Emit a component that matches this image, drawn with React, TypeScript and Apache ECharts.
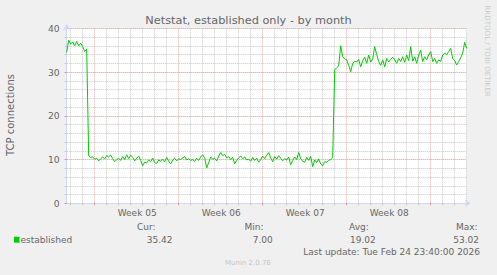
import React, { useEffect, useRef } from "react";
import * as echarts from "echarts";

// One sample every 4 hours, starting Fri Jan 23 2026 17:00 (800 hours shown)
const HOURS_PER_POINT = 4;
const TOTAL_HOURS = 800;
const established: number[] = [
  34.5, 37.3, 36.4, 36.9, 36.0, 37.0, 36.0, 36.6, 35.8, 34.7,
  35.2, 10.8, 10.5, 10.6, 10.1, 10.3, 9.7, 10.2, 10.6, 10.2,
  10.9, 10.6, 11.0, 10.2, 9.5, 10.0, 10.3, 9.8, 10.7, 10.0,
  11.1, 10.2, 11.0, 10.5, 9.7, 10.3, 10.8, 9.8, 8.6, 9.4,
  9.2, 9.9, 9.5, 10.3, 9.3, 9.1, 9.9, 9.6, 10.1, 9.5,
  10.5, 9.6, 9.0, 9.9, 10.3, 9.7, 10.2, 10.0, 10.4, 10.7,
  9.9, 10.2, 9.8, 10.0, 9.6, 10.3, 9.8, 10.6, 11.1, 10.3,
  8.1, 9.3, 10.6, 10.1, 10.3, 9.7, 10.8, 11.6, 10.9, 11.2,
  10.4, 10.7, 10.0, 10.5, 9.0, 9.8, 10.4, 10.8, 10.2, 10.6,
  9.9, 10.1, 9.6, 10.5, 9.8, 10.3, 9.4, 10.0, 10.8, 10.2,
  11.0, 11.6, 10.4, 9.5, 10.7, 10.1, 10.9, 10.3, 9.7, 10.2,
  9.9, 10.6, 8.8, 9.8, 10.6, 10.0, 11.6, 10.2, 9.6, 9.4,
  10.5, 9.8, 10.7, 8.4, 9.9, 9.3, 10.1, 9.0, 8.6, 9.5,
  9.4, 9.8, 10.0, 10.4, 30.5, 31.0, 31.4, 36.0, 33.5, 33.0,
  32.8, 31.5, 30.1, 32.0, 32.4, 32.3, 32.9, 31.2, 32.6, 33.4,
  32.0, 33.9, 32.3, 33.0, 35.8, 34.0, 32.4, 31.5, 32.8, 31.2,
  33.1, 32.3, 32.9, 33.4, 32.8, 32.0, 33.1, 32.4, 33.5, 32.2,
  33.9, 32.6, 35.8, 32.5, 33.5, 32.0, 33.9, 35.0, 32.4, 33.5,
  32.8, 33.9, 34.7, 32.4, 33.1, 32.0, 32.8, 32.4, 33.9, 34.3,
  34.0, 34.7, 35.4, 33.1, 32.6, 31.6, 32.4, 33.3, 34.3, 36.8,
  35.4,
];

// Hour (from start) of the first midnight and first Monday
const FIRST_DAY_HOUR = 7;
const FIRST_WEEK_HOUR = 55;
const WEEK_LABEL_OFFSET = 86;
const weekLabels = ["Week 05", "Week 06", "Week 07", "Week 08"];

const statLabels = ["Cur:", "Min:", "Avg:", "Max:"];
const statValues = ["35.42", "7.00", "19.02", "53.02"];
const seriesName = "established";
const title = "Netstat, established only - by month";
const yName = "TCP connections";
const lastUpdate = "Last update: Tue Feb 24 23:40:00 2026";

const FONT = "DejaVu Sans";
const TXT = "#666666";
const AXIS = "#CFD6F8";
const GRID = "#c8c8c8";
const MGRID = "#eeaaaa";

export default function App() {
  const ref = useRef<HTMLDivElement>(null);

  useEffect(() => {
    document.body.style.margin = "0";
    if (!ref.current) return;
    const chart = echarts.init(ref.current, undefined, { renderer: "svg" });

    const hours = Array.from({ length: TOTAL_HOURS + 1 }, (_, i) => String(i));
    const isDay = (i: number) => (i - FIRST_DAY_HOUR) % 24 === 0 && i >= FIRST_DAY_HOUR;
    const isWeek = (i: number) => (i - FIRST_WEEK_HOUR) % 168 === 0 && i >= FIRST_WEEK_HOUR;
    const labelIdx = (i: number) => {
      const k = (i - FIRST_WEEK_HOUR - WEEK_LABEL_OFFSET) / 168;
      return Number.isInteger(k) && k >= 0 && k < weekLabels.length ? k : -1;
    };

    const statX = [137, 244.5, 349, 456];
    const valX = [146.7, 252.7, 350, 453.3];

    const texts: any[] = [
      { type: "text", x: 248.5, y: 20.5, style: { text: title, font: `11.3px "${FONT}"`, fill: TXT, align: "center", verticalAlign: "middle" } },
      { type: "text", x: 10.5, y: 115, rotation: Math.PI / 2, style: { text: yName, font: `10px "${FONT}"`, fill: TXT, align: "center", verticalAlign: "middle" } },
      { type: "text", x: 487.5, y: 51, rotation: -Math.PI / 2, style: { text: "RRDTOOL / TOBI OETIKER", font: `7.1px "${FONT}"`, fill: "#cacaca", align: "center", verticalAlign: "middle" } },
      { type: "rect", shape: { x: 14, y: 236.7, width: 5.5, height: 6 }, style: { fill: "#00CC00" } },
      { type: "text", x: 20.5, y: 239.5, style: { text: seriesName, font: `9px "${FONT}"`, fill: TXT, align: "left", verticalAlign: "middle" } },
      { type: "text", x: 303.3, y: 251.5, style: { text: lastUpdate, font: `9px "${FONT}"`, fill: TXT, align: "left", verticalAlign: "middle" } },
      { type: "text", x: 225, y: 262.5, style: { text: "Munin 2.0.76", font: `7px "${FONT}"`, fill: "#c6c6c6", align: "left", verticalAlign: "middle" } },
    ];
    statLabels.forEach((s, i) => {
      texts.push({ type: "text", x: statX[i], y: 227, style: { text: s, font: `9px "${FONT}"`, fill: TXT, align: "left", verticalAlign: "middle" } });
      texts.push({ type: "text", x: valX[i], y: 239.5, style: { text: statValues[i], font: `9px "${FONT}"`, fill: TXT, align: "left", verticalAlign: "middle" } });
    });

    chart.setOption({
      animation: false,
      backgroundColor: "#F0F0F0",
      grid: { left: 66.7, right: 30.3, top: 28.3, bottom: 71.7, show: true, backgroundColor: "#ffffff", borderWidth: 0 },
      xAxis: [
        { type: "value", min: 0, max: TOTAL_HOURS, show: false },
        {
          type: "category", data: hours, boundaryGap: false, position: "bottom",
          axisLine: { show: false }, axisLabel: { show: false },
          axisTick: { show: true, length: 2, interval: (i: number) => isDay(i) && !isWeek(i), lineStyle: { color: "#c4c4c4" } },
          splitLine: { show: true, interval: (i: number) => isDay(i) && !isWeek(i), lineStyle: { color: GRID, width: 1, type: [1, 1] } },
        },
        {
          type: "category", data: hours, boundaryGap: false, position: "bottom",
          axisLine: { show: true, lineStyle: { color: AXIS, width: 1 }, symbol: ["none", "arrow"], symbolSize: [6, 6], symbolOffset: [0, 4] },
          axisTick: { show: true, length: 2, interval: (i: number) => isWeek(i), lineStyle: { color: "#e88" } },
          axisLabel: {
            show: true, interval: (i: number) => labelIdx(i) >= 0,
            formatter: (_v: string, i: number) => (labelIdx(i) >= 0 ? weekLabels[labelIdx(i)] : ""),
            color: TXT, fontFamily: FONT, fontSize: 9, margin: 5,
          },
          splitLine: { show: true, interval: (i: number) => isWeek(i), lineStyle: { color: MGRID, width: 1, type: [1, 1] } },
        },
      ],
      yAxis: [
        {
          type: "value", min: 0, max: 40, interval: 2, position: "left",
          axisLine: { show: false }, axisLabel: { show: false },
          axisTick: { show: true, length: 2, lineStyle: { color: "#c4c4c4" } },
          splitLine: { show: true, lineStyle: { color: GRID, width: 1, type: [1, 1] } },
        },
        {
          type: "value", min: 0, max: 40, interval: 10, position: "left",
          axisLine: { show: true, lineStyle: { color: AXIS, width: 1 }, symbol: ["none", "arrow"], symbolSize: [6, 6], symbolOffset: [0, 4] },
          axisTick: { show: true, length: 2, lineStyle: { color: "#e88" } },
          axisLabel: { color: TXT, fontFamily: FONT, fontSize: 9.2, margin: 7 },
          splitLine: { show: true, lineStyle: { color: MGRID, width: 1, type: [1, 1] } },
        },
      ],
      series: [
        {
          type: "line", name: seriesName, xAxisIndex: 0, yAxisIndex: 1,
          data: established.map((v, i) => [i * HOURS_PER_POINT, v]),
          showSymbol: false, symbol: "none",
          lineStyle: { color: "#00CC00", width: 1 }, z: 5,
        },
      ],
      graphic: texts,
    });

    return () => chart.dispose();
  }, []);

  return <div ref={ref} style={{ width: 497, height: 275 }} />;
}
